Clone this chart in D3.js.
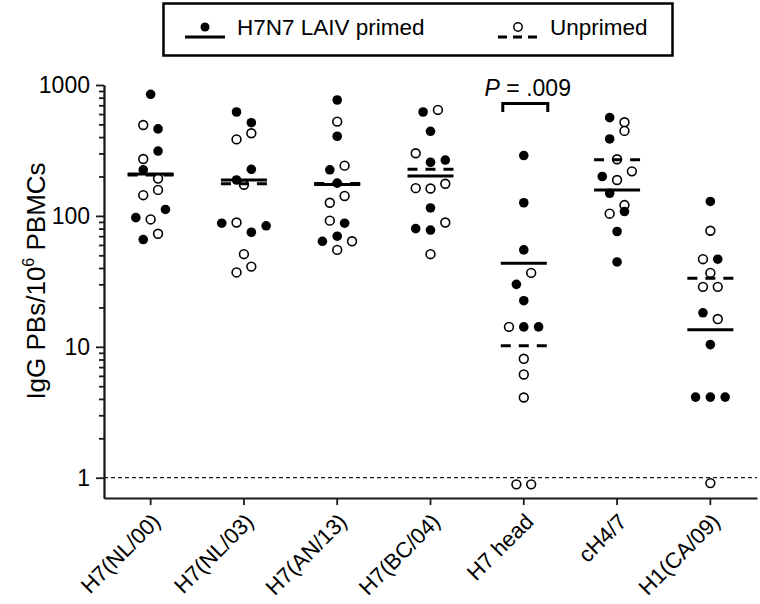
<!DOCTYPE html>
<html><head><meta charset="utf-8">
<script src="https://cdn.jsdelivr.net/npm/d3@7"></script>
<style>body{margin:0;background:#fff} svg{display:block;font-family:"Liberation Sans",Arial,sans-serif}</style>
</head><body><svg id="c" width="760" height="604"></svg>
<script>
// ---- data ----
const categories = ["H7(NL/00)","H7(NL/03)","H7(AN/13)","H7(BC/04)","H7 head","cH4/7","H1(CA/09)"];
// each point: [group, value]  P = H7N7 LAIV primed, U = unprimed (listed top-to-bottom, left-to-right)
const nl00 = [["P",849],["U",495],["P",462],["U",272],["P",313],["P",225],["U",193],["U",144],["U",158],["P",97],["U",94],["P",112],["P",66],["U",73]];
const nl03 = [["P",622],["P",515],["U",384],["U",428],["P",188],["P",227],["U",173],["P",88],["U",89],["P",75],["P",84],["U",51],["U",37],["U",41]];
const an13 = [["P",768],["U",525],["P",406],["P",225],["U",242],["P",178],["U",126],["U",142],["U",92],["P",88],["P",64],["P",70],["U",64],["U",55]];
const bc04 = [["P",622],["U",645],["P",443],["U",301],["P",257],["P",267],["U",163],["U",162],["U",176],["P",115],["P",80],["P",78],["U",89],["U",51]];
const head = [["P",289],["P",126],["P",55],["P",30],["U",36.7],["P",22.5],["U",14.2],["P",14.2],["P",14.2],["U",8.1],["U",6.15],["U",4.1],["U",0.89],["U",0.89]];
const ch47 = [["P",563],["U",519],["P",387],["U",446],["U",271],["P",200],["U",188],["U",219],["P",149],["U",121],["U",104],["P",108],["P",76],["P",44.5]];
const ca09 = [["P",129],["U",77],["U",46.7],["P",46.7],["U",36.7],["U",28.7],["U",28.7],["P",18.2],["U",16.3],["P",10.4],["P",4.13],["P",4.13],["P",4.13],["U",0.91]];
const seriesPoints = [nl00, nl03, an13, bc04, head, ch47, ca09];
const primedLine   = [209, 188, 174, 202, 43.5, 158, 13.5];
const unprimedLine = [205, 176, 177, 227, 10.2, 268, 33.4];
const majorTicks = [1, 10, 100, 1000];
const axisMin = 0.7, axisMax = 1000;
const pLabel = ".009";
const pCategory = "H7 head";
const legendLabels = ["H7N7 LAIV primed", "Unprimed"];

// ---- drawing ----
const svg = d3.select("#c");
const ink = "#1a1a1a";
const x = d3.scaleBand().domain(categories).range([104, 757]);
const cx = c => x(c) + x.bandwidth() / 2;
const y = d3.scaleLog().domain([axisMin, axisMax]).range([498, 85]);

const minorTicks = [];
[1, 10, 100].forEach(d => { for (let k = 2; k <= 9; k++) minorTicks.push(d * k); });

// y axis
const yMinor = svg.append("g").attr("transform", "translate(104,0)")
  .call(d3.axisLeft(y).tickValues(minorTicks).tickSize(5).tickSizeOuter(0).tickFormat(""));
const yMajor = svg.append("g").attr("transform", "translate(104,0)")
  .call(d3.axisLeft(y).tickValues(majorTicks).tickSize(8).tickSizeOuter(0).tickPadding(6).tickFormat(d3.format("d")));
[yMinor, yMajor].forEach(g => {
  g.selectAll("path,line").attr("stroke", ink).attr("stroke-width", 1.8);
  g.selectAll("text").attr("fill", "#000").style("font-size", "23px");
});

// x axis
const xAx = svg.append("g").attr("transform", "translate(0,498)")
  .call(d3.axisBottom(x).tickSize(7).tickSizeOuter(0).tickFormat(""));
xAx.selectAll("path,line").attr("stroke", ink).attr("stroke-width", 1.8);
svg.append("g").selectAll("text").data(categories).join("text")
  .attr("transform", d => `translate(${cx(d) + 11},523) rotate(-45)`)
  .attr("text-anchor", "end").style("font-size", "22px").attr("fill", "#000").text(d => d);

// reference line at 1
svg.append("line").attr("x1", 104).attr("x2", 757).attr("y1", y(1)).attr("y2", y(1))
  .attr("stroke", ink).attr("stroke-width", 1.2).attr("stroke-dasharray", "4,3");

// y label
const yl = svg.append("text").attr("transform", "translate(45,281) rotate(-90)")
  .attr("text-anchor", "middle").style("font-size", "26px").attr("fill", "#000");
yl.append("tspan").text("IgG PBs/10");
yl.append("tspan").text("6").style("font-size", "16px").attr("dy", -11);
yl.append("tspan").text(" PBMCs").attr("dy", 11);

// points (row-based scatter layout)
function layout(points, c) {
  const pts = points.map((p, i) => ({ g: p[0], v: p[1], i, py: y(p[1]) }));
  const sorted = pts.slice().sort((a, b) => a.py - b.py || a.i - b.i);
  const rows = []; let cur = null;
  for (const p of sorted) {
    if (cur && p.py - cur.y0 < 12) cur.items.push(p);
    else { cur = { y0: p.py, items: [p] }; rows.push(cur); }
  }
  rows.forEach(r => {
    r.items.sort((a, b) => a.i - b.i);
    const n = r.items.length;
    r.items.forEach((p, k) => p.px = cx(c) + (k - (n - 1) / 2) * 14.8);
  });
  return pts;
}
const allPts = [];
categories.forEach((c, i) => layout(seriesPoints[i], c).forEach(p => allPts.push(p)));
const gp = svg.append("g");
gp.selectAll("circle.u").data(allPts.filter(p => p.g === "U")).join("circle")
  .attr("class", "u").attr("cx", d => d.px).attr("cy", d => d.py).attr("r", 4.4)
  .attr("fill", "#fff").attr("stroke", "#000").attr("stroke-width", 1.6);
gp.selectAll("circle.p").data(allPts.filter(p => p.g === "P")).join("circle")
  .attr("class", "p").attr("cx", d => d.px).attr("cy", d => d.py).attr("r", 4.8).attr("fill", "#000");

// central lines
const gl = svg.append("g");
gl.selectAll("line.s").data(categories).join("line").attr("class", "s")
  .attr("x1", d => cx(d) - 23).attr("x2", d => cx(d) + 23)
  .attr("y1", (d, i) => y(primedLine[i])).attr("y2", (d, i) => y(primedLine[i]))
  .attr("stroke", "#000").attr("stroke-width", 3);
gl.selectAll("line.d").data(categories).join("line").attr("class", "d")
  .attr("x1", d => cx(d) - 23).attr("x2", d => cx(d) + 23)
  .attr("y1", (d, i) => y(unprimedLine[i])).attr("y2", (d, i) => y(unprimedLine[i]))
  .attr("stroke", "#000").attr("stroke-width", 3).attr("stroke-dasharray", "10,8");

// P value bracket
const pc = cx(pCategory);
svg.append("path").attr("d", `M${pc - 21},112V103.5H${pc + 24}V112`)
  .attr("fill", "none").attr("stroke", "#000").attr("stroke-width", 3);
const pt = svg.append("text").attr("x", pc + 4).attr("y", 96).attr("text-anchor", "middle")
  .style("font-size", "23px").attr("fill", "#000");
pt.append("tspan").text("P").style("font-style", "italic");
pt.append("tspan").text(" = " + pLabel);

// legend
const lg = svg.append("g");
lg.append("rect").attr("x", 163.5).attr("y", 3.5).attr("width", 509).attr("height", 52)
  .attr("fill", "#fff").attr("stroke", "#000").attr("stroke-width", 2.5);
lg.append("line").attr("x1", 185).attr("x2", 225).attr("y1", 37).attr("y2", 37).attr("stroke", "#000").attr("stroke-width", 3);
lg.append("circle").attr("cx", 205).attr("cy", 27).attr("r", 4.5).attr("fill", "#000");
lg.append("text").attr("x", 237).attr("y", 35).style("font-size", "22.5px").attr("fill", "#000").text(legendLabels[0]);
lg.append("line").attr("x1", 498).attr("x2", 537).attr("y1", 37).attr("y2", 37).attr("stroke", "#000").attr("stroke-width", 3).attr("stroke-dasharray", "9,6");
lg.append("circle").attr("cx", 518).attr("cy", 27).attr("r", 4.2).attr("fill", "#fff").attr("stroke", "#000").attr("stroke-width", 1.5);
lg.append("text").attr("x", 550).attr("y", 35).style("font-size", "22.5px").attr("fill", "#000").text(legendLabels[1]);
</script></body></html>
